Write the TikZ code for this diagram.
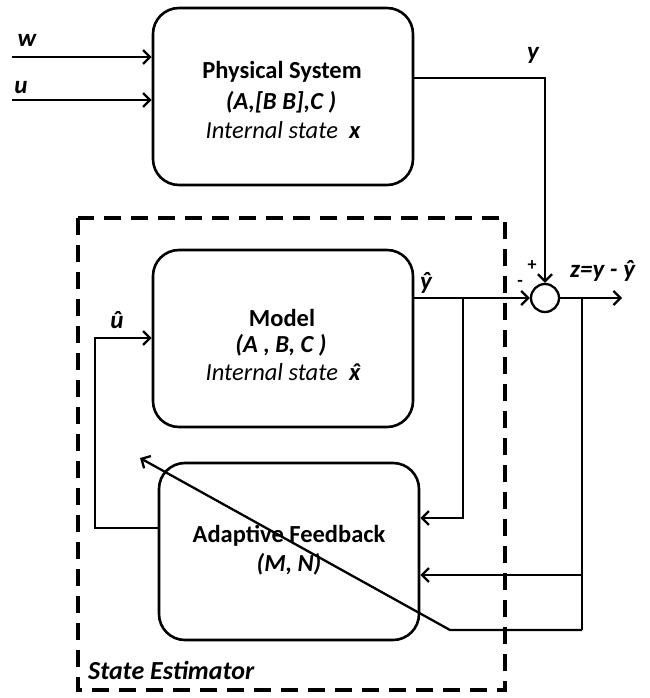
\documentclass[tikz,border=0pt]{standalone}
\usepackage{fontspec}
\setmainfont{Carlito}
\usetikzlibrary{arrows.meta}
\newcommand{\xhatsym}{\ooalign{x\cr\hidewidth\kern0.12em ˆ\hidewidth\cr}}
\begin{document}
\begin{tikzpicture}[x=1pt,y=-1pt,
  blk/.style={draw,line width=2.6pt,rounded corners=26pt,minimum width=260pt,minimum height=177pt,inner sep=0pt},
  con/.style={line width=2.3pt},
  arr/.style={con,-{Straight Barb[length=7pt,width=14pt,line width=2.3pt]}},
  lbl/.style={font=\fontsize{25}{28}\selectfont\bfseries\itshape,inner sep=0pt},
  txt/.style={align=center,inner sep=0pt},
  bt/.style={txt,font=\fontsize{24.5}{28}\selectfont\bfseries},
  bit/.style={txt,font=\fontsize{24.5}{28}\selectfont\bfseries\itshape},
  it/.style={txt,font=\fontsize{24.5}{28}\selectfont\itshape}]
\useasboundingbox (0,0) rectangle (649,698);
% blocks
\node[blk] (phys) at (283,96.5) {};
\node[blk] (model) at (283,338.5) {};
\node[blk] (adapt) at (289,551.5) {};
\node[draw,circle,line width=2.3pt,minimum size=28pt,inner sep=0pt] (sum) at (545,298) {};
% dashed estimator box
\draw[line width=3.6pt,dash pattern=on 17pt off 10pt] (78,218) rectangle (505,690);
% texts inside blocks
\node[bt] (t1) at (282,72) {Physical System};
\node[bit] (t2) at (281,102) {(A,[B B],C )};
\node[it] (t3) at (283,130) {Internal state\ \ \textbf{x}};
\node[bt] (m1) at (282,318) {Model};
\node[bit] (m2) at (281,345) {(A , B, C )};
\node[it] (m3) at (283,372) {Internal state\ \ \textbf{\xhatsym}};
\node[bt] (a1) at (289,536) {Adaptive Feedback};
\node[bit] (a2) at (289,564) {(M, N)};
\node[lbl,font=\fontsize{26}{30}\selectfont\bfseries\itshape,anchor=west] (se) at (88,670) {State Estimator};
% input labels
\node[lbl] (lw) at (27,40) {w};
\node[lbl] (lu) at (21,88) {u};
\node[lbl] (ly) at (533,55) {y};
\node[lbl] (lyh) at (426,283) {ŷ};
\node[lbl] (luh) at (117,320) {û};
\node[lbl,anchor=west] (lz) at (570,271) {z=y - ŷ};
\node[font=\fontsize{18}{20}\selectfont\bfseries,inner sep=0pt] (lp) at (532,266) {+};
\node[font=\fontsize{18}{20}\selectfont\bfseries,inner sep=0pt] (lm) at (520,283) {-};
% coordinates
\coordinate (ws) at (12,57);
\coordinate (us) at (12,100);
\coordinate (yc) at (545,78);
\coordinate (b1) at (463,298);
\coordinate (b1e) at (463,518);
\coordinate (b2) at (582,298);
\coordinate (b2m) at (582,575);
\coordinate (b2e) at (582,630);
\coordinate (dg) at (450,630);
\coordinate (dgend) at (140,458);
\coordinate (ze) at (622,298);
\coordinate (uc1) at (95,528);
\coordinate (uc2) at (95,338);
% connectors
\draw[arr] (ws) -- (ws -| phys.west);
\draw[arr] (us) -- (us -| phys.west);
\draw[arr] (yc -| phys.east) -- (yc) -- (sum.north);
\draw[arr] (sum -| model.east) -- (sum.west);
\draw[arr] (sum.east) -- (ze);
\draw[arr] (b1) -- (b1e) -- (b1e -| adapt.east);
\draw[con] (b2) -- (b2e);
\draw[arr] (b2m) -- (b2m -| adapt.east);
\draw[arr] (b2e) -- (dg) -- (dgend);
\draw[arr] (uc1 -| adapt.west) -- (uc1) -- (uc2) -- (uc2 -| model.west);
\end{tikzpicture}
\end{document}
